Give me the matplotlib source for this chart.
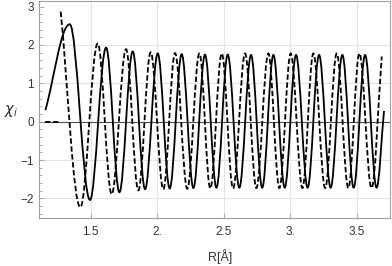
import matplotlib
matplotlib.use("Agg")
import matplotlib.pyplot as plt
from matplotlib.path import Path
from matplotlib.patches import PathPatch
from matplotlib.ticker import MultipleLocator, FixedLocator

plt.rcParams['font.family'] = ['Liberation Sans', 'DejaVu Sans']

# extrema (first / last entries are the curve ends)
solid_x = [1.160, 1.343, 1.495, 1.616, 1.716, 1.816, 1.909, 2.004, 2.094, 2.184,
           2.272, 2.359, 2.445, 2.530, 2.617, 2.705, 2.789, 2.873, 2.958, 3.043,
           3.130, 3.216, 3.303, 3.391, 3.476, 3.562, 3.648, 3.704]
solid_y = [0.30, 2.54, -2.04, 1.93, -1.84, 1.83, -1.76, 1.78, -1.74, 1.76,
           -1.73, 1.75, -1.72, 1.75, -1.72, 1.74, -1.72, 1.74, -1.72, 1.74,
           -1.72, 1.74, -1.72, 1.74, -1.72, 1.74, -1.72, 0.28]

dashed_x = [1.275, 1.423, 1.553, 1.658, 1.766, 1.858, 1.951, 2.046, 2.134, 2.226,
            2.317, 2.399, 2.485, 2.570, 2.660, 2.745, 2.835, 2.918, 3.003, 3.091,
            3.173, 3.262, 3.349, 3.436, 3.519, 3.610, 3.687]
dashed_y = [2.87, -2.23, 2.04, -1.89, 1.89, -1.79, 1.81, -1.76, 1.79, -1.75,
            1.78, -1.74, 1.78, -1.74, 1.78, -1.73, 1.78, -1.73, 1.78, -1.73,
            1.78, -1.73, 1.78, -1.73, 1.78, -1.73, 1.70]

# dashed curve is zero before it starts
dashed_zero_x = [1.160, 1.270]
dashed_zero_y = [0.0, 0.0]

xticks = [1.5, 2.0, 2.5, 3.0, 3.5]
xticklabels = ["1.5", "2.", "2.5", "3.", "3.5"]
yticks = [-2, -1, 0, 1, 2, 3]
yticklabels = ["\u22122", "\u22121", "0", "1", "2", "3"]


def smooth_path(xs, ys):
    # cubic bezier pieces, flat tangent at extrema, chord tangent at the ends
    c = 0.363
    n = len(xs)
    verts = [(xs[0], ys[0])]
    codes = [Path.MOVETO]
    for i in range(n - 1):
        x0, y0, x1, y1 = xs[i], ys[i], xs[i + 1], ys[i + 1]
        d = x1 - x0
        if i == 0:
            p1 = (x0 + c * d, y0 + c * (y1 - y0))
        else:
            p1 = (x0 + c * d, y0)
        if i + 1 == n - 1:
            p2 = (x1 - c * d, y1 - c * (y1 - y0))
        else:
            p2 = (x1 - c * d, y1)
        verts += [p1, p2, (x1, y1)]
        codes += [Path.CURVE4] * 3
    return Path(verts, codes)


fig = plt.figure(figsize=(3.92, 2.66), dpi=100)
ax = fig.add_axes([39 / 392, 48 / 266, 351 / 392, 217 / 266])

ax.set_xlim(1.112, 3.749)
ax.set_ylim(-2.511, 3.147)

for g in xticks:
    ax.axvline(g, color="#e4e4e4", lw=0.8, zorder=0)
for g in [-2, -1, 1, 2]:
    ax.axhline(g, color="#e4e4e4", lw=0.8, zorder=0)
ax.axhline(0, color="#505050", lw=0.8, zorder=1)

ax.add_patch(PathPatch(smooth_path(solid_x, solid_y), fill=False,
                       edgecolor="black", lw=1.3, zorder=3))
ax.add_patch(PathPatch(smooth_path(dashed_x, dashed_y), fill=False,
                       edgecolor="black", lw=1.3, zorder=3,
                       linestyle=(0, (3.0, 1.4))))
ax.plot(dashed_zero_x, dashed_zero_y, color="black", lw=1.3, zorder=3,
        linestyle=(0, (3.0, 1.4)))

ax.xaxis.set_major_locator(FixedLocator(xticks))
ax.set_xticklabels(xticklabels)
ax.yaxis.set_major_locator(FixedLocator(yticks))
ax.set_yticklabels(yticklabels)
ax.yaxis.set_minor_locator(MultipleLocator(0.2))

ax.tick_params(which="both", direction="in", color="#a0a0a0", width=0.6,
               labelsize=8.5, labelcolor="#333333", top=False, right=False)
ax.tick_params(which="major", length=3.5, pad=3.5)
ax.tick_params(which="minor", length=2)
ax.tick_params(axis="x", pad=5.5)

for s in ax.spines.values():
    s.set_color("#a0a0a0")
    s.set_linewidth(0.8)

fig.text(220 / 392, 1 - 257 / 266, "R[Å]", ha="center", va="center",
         fontsize=9, color="#333333")
fig.text(11 / 392, 1 - 111 / 266, r"$\chi_i$", ha="center", va="center",
         fontsize=10.5, color="#333333")

fig.savefig("out.png", dpi=100)
